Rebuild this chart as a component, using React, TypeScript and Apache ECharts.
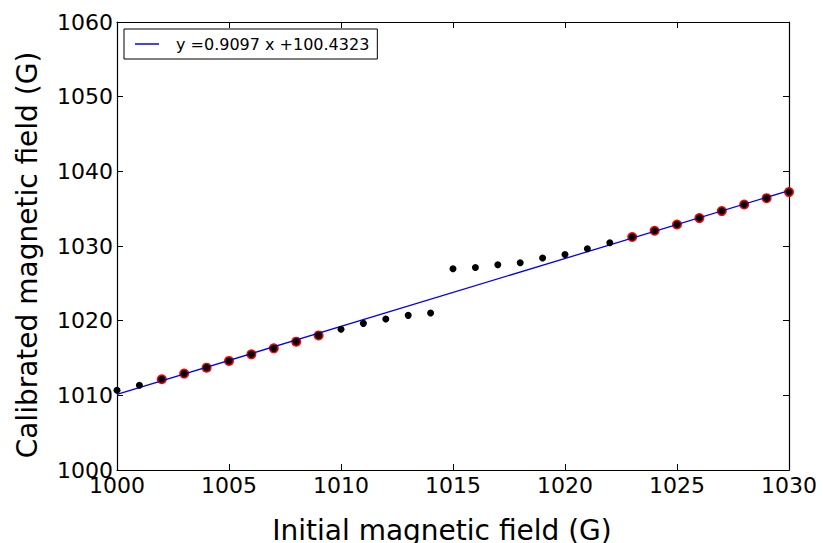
import React, { useEffect, useRef } from "react";
import * as echarts from "echarts";

const xTicks = [1000, 1005, 1010, 1015, 1020, 1025, 1030];
const yTicks = [1000, 1010, 1020, 1030, 1040, 1050, 1060];

const initialField = [
  1000, 1001, 1002, 1003, 1004, 1005, 1006, 1007, 1008, 1009, 1010,
  1011, 1012, 1013, 1014, 1015, 1016, 1017, 1018, 1019, 1020,
  1021, 1022, 1023, 1024, 1025, 1026, 1027, 1028, 1029, 1030,
];
const calibratedField = [
  1010.68, 1011.34, 1012.15, 1012.91, 1013.71, 1014.61, 1015.49, 1016.29, 1017.19, 1018.03, 1018.86,
  1019.64, 1020.23, 1020.71, 1021.03, 1026.96, 1027.13, 1027.49, 1027.76, 1028.39, 1028.87,
  1029.63, 1030.43, 1031.2, 1032.04, 1032.88, 1033.74, 1034.68, 1035.56, 1036.41, 1037.22,
];
// points used for the fit (drawn in red)
const fitX = [1002, 1003, 1004, 1005, 1006, 1007, 1008, 1009, 1023, 1024, 1025, 1026, 1027, 1028, 1029, 1030];

const fitSlope = 0.9097;
const fitIntercept = 100.4323;
const fitLineX = [1000, 1030];
const fitLabel = "y =0.9097 x +100.4323";

const FONT = "DejaVu Sans";

export default function App() {
  const ref = useRef<HTMLDivElement>(null);

  useEffect(() => {
    if (!ref.current) return;
    const chart = echarts.init(ref.current, undefined, { renderer: "svg" });

    const allPoints = initialField.map((x, i) => [x, calibratedField[i]]);
    const fitPoints = allPoints.filter((p) => fitX.includes(p[0]));
    const linePoints = fitLineX.map((x) => [x, fitSlope * x + fitIntercept]);

    const tickStyle = { show: true, inside: true, length: 6, lineStyle: { color: "#000", width: 1 } };
    const lineStyle = { show: true, lineStyle: { color: "#000", width: 1.2 } };

    chart.setOption({
      animation: false,
      backgroundColor: "#fff",
      textStyle: { fontFamily: FONT },
      grid: { left: 117, right: 34, top: 22, bottom: 73, containLabel: false, outerBoundsMode: "none" },
      legend: {
        left: 124,
        top: 29,
        orient: "horizontal",
        padding: [5, 8, 5, 11],
        borderColor: "#000",
        borderWidth: 1,
        borderRadius: 0,
        itemWidth: 24,
        itemHeight: 1.5,
        selectedMode: false,
        data: [{ name: fitLabel, icon: "rect", itemStyle: { color: "#0000ff" } }],
        textStyle: { fontFamily: FONT, fontSize: 16, color: "#000", padding: [0, 0, 0, 12], lineHeight: 20 },
      },
      xAxis: [
        {
          type: "value",
          min: 1000,
          max: 1030,
          interval: 5,
          position: "bottom",
          name: "Initial magnetic field (G)",
          nameLocation: "middle",
          nameGap: 46,
          nameTextStyle: { fontFamily: FONT, fontSize: 28, color: "#000", padding: [0, 22, 0, 0] },
          axisLine: lineStyle,
          axisTick: tickStyle,
          splitLine: { show: false },
          axisLabel: {
            fontFamily: FONT,
            fontSize: 22,
            color: "#000",
            margin: 4,
            formatter: (v: number) => (xTicks.includes(v) ? String(v) : ""),
          },
        },
        {
          type: "value",
          min: 1000,
          max: 1030,
          interval: 5,
          position: "top",
          axisLine: lineStyle,
          axisTick: tickStyle,
          splitLine: { show: false },
          axisLabel: { show: false },
        },
      ],
      yAxis: [
        {
          type: "value",
          min: 1000,
          max: 1060,
          interval: 10,
          position: "left",
          name: "Calibrated magnetic field (G)",
          nameLocation: "middle",
          nameGap: 76,
          nameTextStyle: { fontFamily: FONT, fontSize: 28, color: "#000", padding: [0, 18, 0, 0] },
          axisLine: lineStyle,
          axisTick: tickStyle,
          splitLine: { show: false },
          axisLabel: {
            fontFamily: FONT,
            fontSize: 22,
            color: "#000",
            margin: 4,
            formatter: (v: number) => (yTicks.includes(v) ? String(v) : ""),
          },
        },
        {
          type: "value",
          min: 1000,
          max: 1060,
          interval: 10,
          position: "right",
          axisLine: lineStyle,
          axisTick: tickStyle,
          splitLine: { show: false },
          axisLabel: { show: false },
        },
      ],
      series: [
        {
          name: "fit points",
          type: "scatter",
          data: fitPoints,
          symbol: "circle",
          symbolSize: 10,
          itemStyle: { color: "#ff0000", opacity: 1 },
          z: 2,
        },
        {
          name: fitLabel,
          type: "line",
          data: linePoints,
          showSymbol: false,
          symbol: "none",
          itemStyle: { color: "#0000ff" },
          lineStyle: { color: "#0000ff", width: 1.3 },
          z: 3,
        },
        {
          name: "data",
          type: "scatter",
          data: allPoints,
          symbol: "circle",
          symbolSize: 7,
          itemStyle: { color: "#000000", opacity: 1 },
          z: 4,
        },
      ],
    });

    return () => chart.dispose();
  }, []);

  return <div ref={ref} style={{ width: 823, height: 543, position: "absolute", left: 0, top: 0 }} />;
}
